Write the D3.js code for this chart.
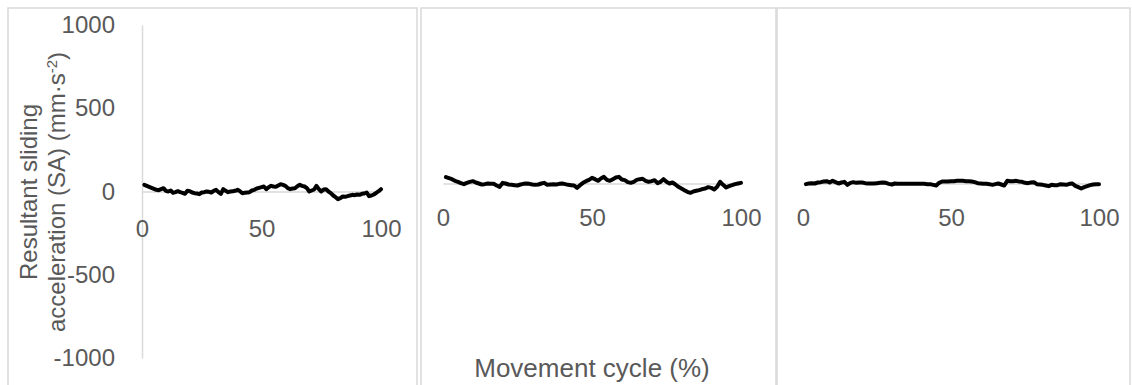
<!DOCTYPE html>
<html>
<head>
<meta charset="utf-8">
<script src="https://cdn.jsdelivr.net/npm/d3@7"></script>
<style>
  html, body { margin: 0; padding: 0; background: #fff; }
  svg { display: block; font-family: "Liberation Sans", Arial, sans-serif; }
</style>
</head>
<body>
<svg id="chart" width="1132" height="385"></svg>
<script>
// Movement cycle (%) sample positions
const cycle = d3.range(1, 101);

// Resultant sliding acceleration (mm·s^-2), one series per panel
const saPanelA = [
  40, 34, 28, 22, 16, 10, 8, 14, 20, 4,
  0, 6, -8, -4, 2, -4, -8, -14, 4, 2,
  -6, -10, -12, -16, -6, -4, 0, -2, -6, 4,
  10, -4, -14, 14, 4, -4, 0, 2, 4, 10,
  2, -10, -8, -6, -4, 6, 10, 18, 22, 26,
  30, 14, 26, 34, 30, 28, 36, 44, 40, 34,
  20, 14, 18, 20, 32, 40, 34, 30, 20, 0,
  6, 12, 34, 14, 0, 12, 14, 0, -10, -24,
  -34, -46, -40, -30, -32, -28, -24, -20, -22, -18,
  -20, -14, -12, -6, -28, -24, -18, -8, 2, 14
];
const saPanelB = [
  38, 32, 26, 16, 10, 2, -4, 4, 10, 14,
  6, 0, -6, -4, 0, -2, -2, -12, -20, 4,
  0, -6, -8, -10, -12, -6, -2, 0, -2, -6,
  -8, -6, 0, 4, -8, -6, -4, -6, -2, 0,
  -4, -8, -10, -12, -26, -10, 4, 14, 22, 34,
  26, 16, 30, 40, 22, 16, 26, 36, 40, 24,
  20, 8, 4, 10, 22, 26, 28, 16, 10, 14,
  20, 2, 10, 26, 10, 0, 6, -6, -20, -30,
  -40, -50, -56, -48, -44, -40, -34, -30, -22, -26,
  -36, -20, 10, -8, -24, -16, -10, -4, 0, 4
];
const saPanelC = [
  -4, 0, 2, 0, 6, 8, 12, 14, 6, 16,
  8, 0, 6, 10, -8, 4, 8, 4, 6, 6,
  2, 0, 0, 0, 2, 4, 6, 4, -2, -6,
  0, -2, -2, -2, -2, -2, -2, -2, -2, -2,
  -2, -4, -4, -8, -12, 4, 12, 12, 12, 14,
  14, 16, 16, 16, 14, 14, 12, 8, 2, 0,
  -2, -2, -4, -8, -4, 0, -6, -12, 16, 14,
  14, 16, 12, 10, 4, 2, 6, 8, -4, -6,
  -8, -12, -16, -8, -10, -10, -4, -6, -8, -2,
  0, -14, -22, -30, -22, -16, -10, -6, -4, -4
];

// Tick labels
const yTicks = [1000, 500, 0, -500, -1000];
const xTicks = [0, 50, 100];

// Axis titles
const yTitleLine1 = "Resultant sliding";
const yTitleLine2 = "acceleration (SA) (mm·s";
const yTitleSup = "-2";
const xTitle = "Movement cycle (%)";

const svg = d3.select("#chart");
const grey = "#d9d9d9";
const textGrey = "#595959";
const plainNumber = d => String(d);

// Panel frames and plot-area geometry
const panels = [
  { frame: [8, 8, 417, 400], x0: 142, x1: 381, yTop: 25, yBot: 358, pad: 28.5, series: saPanelA, showY: true },
  { frame: [421, 8, 776, 400], x0: 443, x1: 741, yTop: 17, yBot: 350, pad: 25.5, series: saPanelB, showY: false },
  { frame: [777, 8, 1130, 400], x0: 803, x1: 1099, yTop: 17, yBot: 350, pad: 25.5, series: saPanelC, showY: false }
];

panels.forEach(p => {
  const [fx0, fy0, fx1, fy1] = p.frame;
  svg.append("rect")
    .attr("x", fx0).attr("y", fy0)
    .attr("width", fx1 - fx0).attr("height", fy1 - fy0)
    .attr("fill", "none").attr("stroke", grey).attr("stroke-width", 1.5);

  const x = d3.scaleLinear().domain([0, 100]).range([p.x0, p.x1]);
  const y = d3.scaleLinear().domain([-1000, 1000]).range([p.yBot, p.yTop]);

  if (p.showY) {
    const gy = svg.append("g")
      .attr("transform", `translate(${p.x0},0)`)
      .call(d3.axisLeft(y).tickValues(yTicks).tickSize(0).tickPadding(27).tickFormat(plainNumber));
    gy.select(".domain").attr("stroke", grey).attr("stroke-width", 1.5);
    gy.selectAll("text").attr("fill", textGrey).style("font-size", "24px")
      .style("font-family", "'Liberation Sans', Arial, sans-serif");
  }

  const gx = svg.append("g")
    .attr("transform", `translate(0,${y(0)})`)
    .call(d3.axisBottom(x).tickValues(xTicks).tickSize(0).tickPadding(p.pad).tickFormat(plainNumber));
  gx.select(".domain").attr("stroke", grey).attr("stroke-width", 1.5);
  gx.selectAll("text").attr("fill", textGrey).style("font-size", "24px")
    .style("font-family", "'Liberation Sans', Arial, sans-serif");

  const line = d3.line()
    .x((d, i) => x(cycle[i]))
    .y(d => y(d));

  svg.append("path")
    .datum(p.series)
    .attr("d", line)
    .attr("fill", "none")
    .attr("stroke", "#000")
    .attr("stroke-width", 4)
    .attr("stroke-linejoin", "round")
    .attr("stroke-linecap", "round");
});

// Y axis title (two rotated lines)
const yTitle = svg.append("g").attr("fill", textGrey).style("font-size", "24px");
yTitle.append("text")
  .attr("transform", "translate(37,192) rotate(-90)")
  .attr("text-anchor", "middle")
  .text(yTitleLine1);
const t2 = yTitle.append("text")
  .attr("transform", "translate(65,192) rotate(-90)")
  .attr("text-anchor", "middle");
t2.append("tspan").text(yTitleLine2);
t2.append("tspan").attr("baseline-shift", "super").style("font-size", "15px").text(yTitleSup);
t2.append("tspan").text(")");

// X axis title
svg.append("text")
  .attr("x", 592).attr("y", 377)
  .attr("text-anchor", "middle")
  .attr("fill", textGrey)
  .style("font-size", "26px")
  .text(xTitle);
</script>
</body>
</html>
